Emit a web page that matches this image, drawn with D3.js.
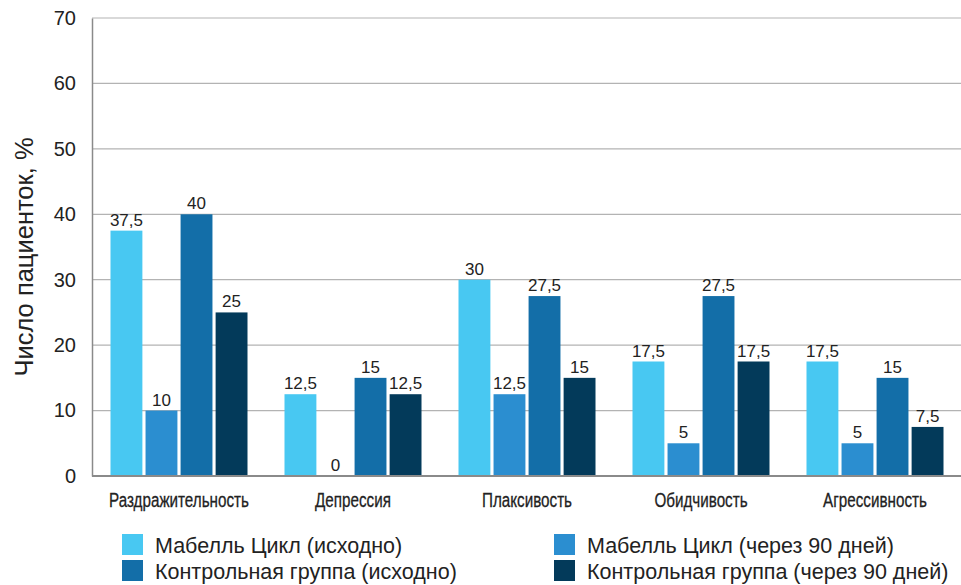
<!DOCTYPE html>
<html><head><meta charset="utf-8">
<script src="https://cdn.jsdelivr.net/npm/d3@7"></script>
<style>body{margin:0;background:#fff}</style>
</head><body>
<svg id="c" width="961" height="585"></svg>
<script>
const categories = ["Раздражительность","Депрессия","Плаксивость","Обидчивость","Агрессивность"];
const seriesNames = ["Мабелль Цикл (исходно)","Мабелль Цикл (через 90 дней)","Контрольная группа (исходно)","Контрольная группа (через 90 дней)"];
const mabelBase = [37.5, 12.5, 30, 17.5, 17.5];
const mabel90 = [10, 0, 12.5, 5, 5];
const ctrlBase = [40, 15, 27.5, 27.5, 15];
const ctrl90 = [25, 12.5, 15, 17.5, 7.5];
const yTicks = [0,10,20,30,40,50,60,70];
const colors = ["#48c8f2","#2b8ed0","#136ea8","#033a5a"];
const series = [mabelBase, mabel90, ctrlBase, ctrl90];

const svg = d3.select("#c");
const m = {l:92, t:18, r:961, b:476};
const x0 = d3.scaleBand().domain(categories).range([m.l, m.l+174*5]).paddingInner(0).paddingOuter(0);
const groupW = 137;
const x1 = d3.scaleBand().domain(d3.range(4)).range([0, groupW]).paddingInner(0.09).paddingOuter(0);
const y = d3.scaleLinear().domain([0,70]).range([m.b, m.t]);

// gridlines
svg.append("g").selectAll("line").data(yTicks.filter(d=>d>0)).join("line")
  .attr("x1", m.l).attr("x2", m.r).attr("y1", d=>y(d)).attr("y2", d=>y(d))
  .attr("stroke","#b3b3b3").attr("stroke-width",1.2);

// y axis
const ya = svg.append("g").attr("transform",`translate(${m.l},0)`)
  .call(d3.axisLeft(y).tickValues(yTicks).tickSize(0).tickPadding(16));
ya.select(".domain").attr("stroke","#8a8a8a").attr("stroke-width",1.5);
ya.selectAll("text").attr("font-family","Liberation Sans, Arial, sans-serif").attr("font-size",20).attr("fill","#222");

// bars
const gs = svg.append("g").selectAll("g").data(categories).join("g")
  .attr("transform", d=>`translate(${x0(d)+(x0.bandwidth()-groupW)/2},0)`);
gs.selectAll("rect").data((d,i)=>series.map((s,k)=>({k, v:s[i]}))).join("rect")
  .attr("x", d=>x1(d.k)).attr("width", x1.bandwidth())
  .attr("y", d=>y(d.v)).attr("height", d=>y(0)-y(d.v))
  .attr("fill", d=>colors[d.k]);
gs.selectAll("text").data((d,i)=>series.map((s,k)=>({k, v:s[i]}))).join("text")
  .attr("x", d=>x1(d.k)+x1.bandwidth()/2).attr("y", d=>y(d.v)-5)
  .attr("text-anchor","middle").attr("font-family","Liberation Sans, Arial, sans-serif")
  .attr("font-size",17).attr("fill","#222")
  .text(d=>String(d.v).replace(".",","));

// x axis
svg.append("line").attr("x1",m.l).attr("x2",m.r).attr("y1",y(0)).attr("y2",y(0))
  .attr("stroke","#8a8a8a").attr("stroke-width",2);
svg.append("g").selectAll("text").data(categories).join("text")
  .attr("transform", d=>`translate(${x0(d)+x0.bandwidth()/2},507) scale(0.725,1)`)
  .attr("text-anchor","middle")
  .attr("font-family","Liberation Sans, Arial, sans-serif")
  .attr("font-size",21).attr("fill","#222")
  .attr("stroke","#222").attr("stroke-width",0.3)
  .text(d=>d);

// y title
svg.append("text").attr("transform","translate(33,257) rotate(-90)")
  .attr("text-anchor","middle").attr("font-family","Liberation Sans, Arial, sans-serif")
  .attr("font-size",25.5).attr("fill","#222").text("Число пациенток, %");

// legend
const legPos = [[122,534],[554,534],[122,560],[554,560]];
const lg = svg.append("g").selectAll("g").data(seriesNames).join("g")
  .attr("transform",(d,i)=>`translate(${legPos[i][0]},${legPos[i][1]})`);
lg.append("rect").attr("width",21).attr("height",21).attr("fill",(d,i)=>colors[i]);
lg.append("text").attr("x",33).attr("y",18.5).attr("font-family","Liberation Sans, Arial, sans-serif")
  .attr("font-size",21.5).attr("fill","#222").text(d=>d);
</script>
</body></html>
